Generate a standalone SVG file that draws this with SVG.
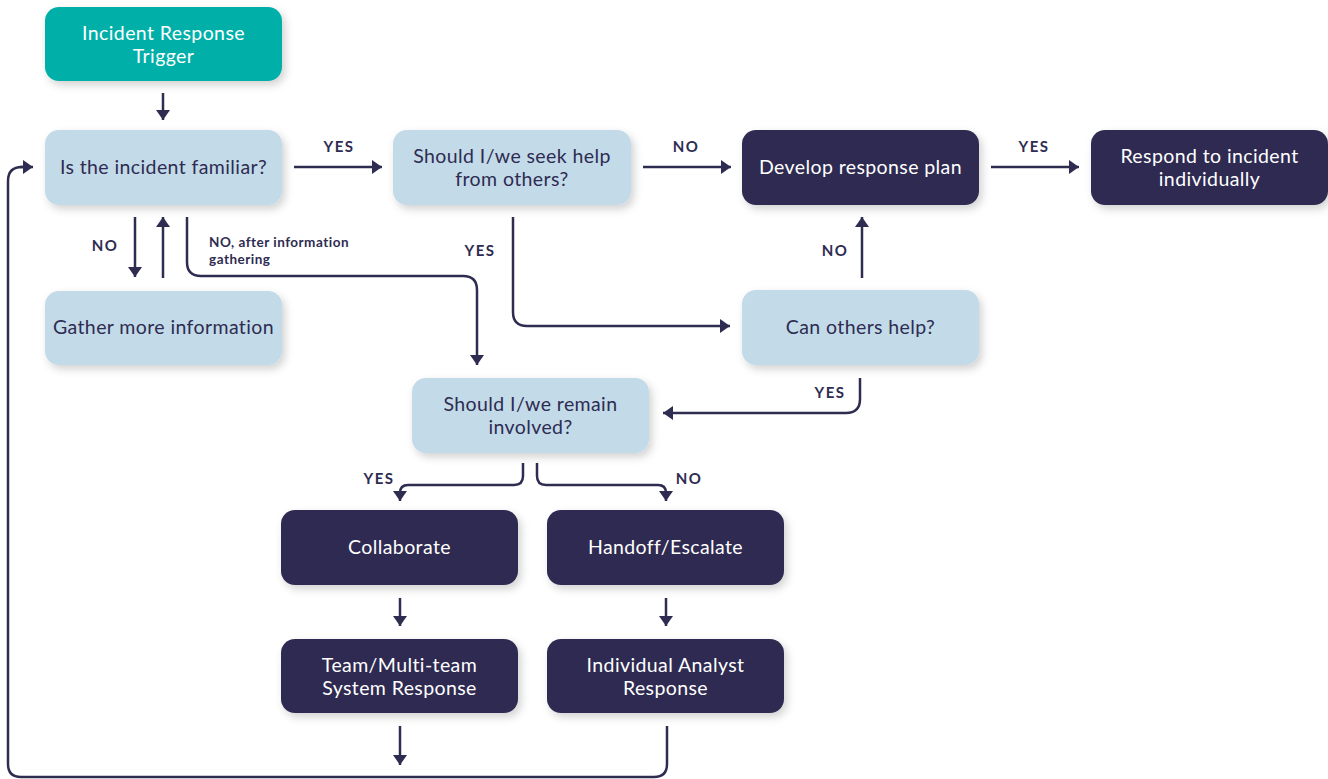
<svg xmlns="http://www.w3.org/2000/svg" width="1328" height="779" viewBox="0 0 1328 779">
<defs>
<filter id="sh" x="-10%" y="-20%" width="130%" height="150%">
<feDropShadow dx="3" dy="4" stdDeviation="4" flood-color="#000" flood-opacity="0.18"/>
</filter>
<marker id="ah" markerUnits="userSpaceOnUse" markerWidth="11" markerHeight="14" refX="10" refY="7" orient="auto">
<path d="M0,0 L10,7 L0,14 z" fill="#2e2c51"/>
</marker>
</defs>
<style>
.box rect{filter:url(#sh);}
.teal rect{fill:#05b0a8;}
.light rect{fill:#c3dae9;}
.dark rect{fill:#2e2c51;}
text{font-family:"Lato","Noto Sans",sans-serif;font-size:19.5px;letter-spacing:0.4px;text-anchor:middle;}
.teal text,.dark text{fill:#ffffff;}
.light text{fill:#2e2c51;}
.lbl{font-size:15px;font-weight:bold;fill:#2e2c51;letter-spacing:1.5px;}
.lbls{font-size:13.5px;font-weight:bold;fill:#2e2c51;letter-spacing:0.5px;text-anchor:start;}
#connectors path{fill:none;stroke:#2e2c51;stroke-width:2.5;}
#connectors path.a{marker-end:url(#ah);}
</style>
<rect width="1328" height="779" fill="#ffffff"/>

<g id="connectors">
<path class="a" d="M163,93 V120"/>
<path class="a" d="M294,167 H382"/>
<path class="a" d="M643,167 H731"/>
<path class="a" d="M991,167 H1079"/>
<path class="a" d="M135,217 V277"/>
<path class="a" d="M163,278 V217"/>
<path class="a" d="M187,217 V262 Q187,276 201,276 H463 Q477,276 477,290 V365"/>
<path class="a" d="M513,217 V312 Q513,326 527,326 H730"/>
<path class="a" d="M862,278 V217"/>
<path class="a" d="M860,378 V399 Q860,413 846,413 H663"/>
<path class="a" d="M523,463 V476 Q523,485 514,485 H408 Q400,485 400,493 V501"/>
<path class="a" d="M537,463 V476 Q537,485 546,485 H658 Q666,485 666,493 V501"/>
<path class="a" d="M400,598 V626"/>
<path class="a" d="M666,598 V626"/>
<path class="a" d="M400,726 V765"/>
<path d="M667,726 V764 Q667,777 654,777 H21 Q8,777 8,764 V181 Q8,167 22,167 H23"/>
<path class="a" d="M20,167 H33"/>
<text class="lbl" x="339" y="152">YES</text>
<text class="lbl" x="686" y="152">NO</text>
<text class="lbl" x="1034" y="152">YES</text>
<text class="lbl" x="105" y="251">NO</text>
<text class="lbls" x="209" y="247">NO, after information</text>
<text class="lbls" x="209" y="264">gathering</text>
<text class="lbl" x="480" y="256">YES</text>
<text class="lbl" x="835" y="256">NO</text>
<text class="lbl" x="830" y="398">YES</text>
<text class="lbl" x="379" y="484">YES</text>
<text class="lbl" x="689" y="484">NO</text>
</g>

<g id="n_trigger" class="box teal">
<rect x="45" y="7" width="237" height="74" rx="14"/>
<text x="163.5" y="40">Incident Response</text>
<text x="163.5" y="63">Trigger</text>
</g>
<g id="n_familiar" class="box light">
<rect x="45" y="130" width="237" height="75" rx="14"/>
<text x="163.5" y="174">Is the incident familiar?</text>
</g>
<g id="n_seek" class="box light">
<rect x="393" y="130" width="238" height="75" rx="14"/>
<text x="512" y="163">Should I/we seek help</text>
<text x="512" y="186">from others?</text>
</g>
<g id="n_develop" class="box dark">
<rect x="742" y="130" width="237" height="75" rx="14"/>
<text x="860.5" y="174">Develop response plan</text>
</g>
<g id="n_respond" class="box dark">
<rect x="1091" y="130" width="237" height="75" rx="14"/>
<text x="1209.5" y="163">Respond to incident</text>
<text x="1209.5" y="186">individually</text>
</g>
<g id="n_gather" class="box light">
<rect x="45" y="291" width="237" height="74" rx="14"/>
<text x="163.5" y="334">Gather more information</text>
</g>
<g id="n_can" class="box light">
<rect x="742" y="290" width="237" height="75" rx="14"/>
<text x="860.5" y="334">Can others help?</text>
</g>
<g id="n_remain" class="box light">
<rect x="412" y="378" width="237" height="75" rx="14"/>
<text x="530.5" y="411">Should I/we remain</text>
<text x="530.5" y="434">involved?</text>
</g>
<g id="n_collab" class="box dark">
<rect x="281" y="510" width="237" height="75" rx="14"/>
<text x="399.5" y="554">Collaborate</text>
</g>
<g id="n_handoff" class="box dark">
<rect x="547" y="510" width="237" height="75" rx="14"/>
<text x="665.5" y="554">Handoff/Escalate</text>
</g>
<g id="n_team" class="box dark">
<rect x="281" y="639" width="237" height="74" rx="14"/>
<text x="399.5" y="672">Team/Multi-team</text>
<text x="399.5" y="695">System Response</text>
</g>
<g id="n_indiv" class="box dark">
<rect x="547" y="639" width="237" height="74" rx="14"/>
<text x="665.5" y="672">Individual Analyst</text>
<text x="665.5" y="695">Response</text>
</g>
</svg>
